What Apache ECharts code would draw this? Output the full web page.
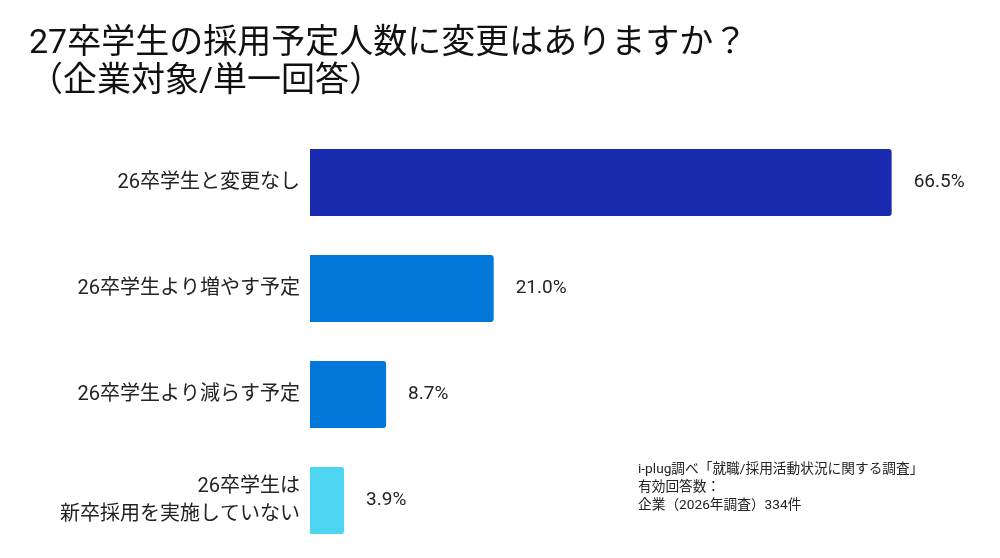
<!DOCTYPE html>
<html>
<head>
<meta charset="utf-8">
<script src="https://cdn.jsdelivr.net/npm/echarts@6/dist/echarts.min.js"></script>
<style>
  html, body { margin: 0; padding: 0; background: #fff; }
  #chart { width: 1000px; height: 558px; }
</style>
</head>
<body>
<div id="chart"></div>
<script>
  const FONT = "Roboto, 'Noto Sans CJK JP', sans-serif";
  const categories = ["26卒学生と変更なし", "26卒学生より増やす予定", "26卒学生より減らす予定", "26卒学生は\n新卒採用を実施していない"];
  const values = [66.5, 21.0, 8.7, 3.9];
  const barColors = ["#1a2aae", "#0077d9", "#0077d9", "#4dd4f0"];

  const chart = echarts.init(document.getElementById("chart"), null, { renderer: "canvas" });
  chart.setOption({
    animation: false,
    title: {
      text: "27卒学生の採用予定人数に変更はありますか？\n（企業対象/単一回答）",
      left: 24, top: 20,
      textStyle: { fontFamily: FONT, fontSize: 34, fontWeight: "normal", color: "#111", lineHeight: 38 }
    },
    graphic: [{
      type: "text", left: 638, top: 461,
      style: {
        text: "i-plug調べ「就職/採用活動状況に関する調査」\n有効回答数：\n企業（2026年調査）334件",
        font: "13.7px " + FONT, fill: "#222", lineHeight: 18
      }
    }],
    grid: { left: 310, right: 34, top: 129.5, bottom: 4.5, containLabel: false },
    xAxis: { type: "value", min: 0, max: 75, show: false },
    yAxis: {
      type: "category", data: categories, inverse: true,
      axisLine: { show: false }, axisTick: { show: false },
      axisLabel: { fontFamily: FONT, fontSize: 20, color: "#222", margin: 10, align: "right", lineHeight: 28 }
    },
    series: [{
      type: "bar", barWidth: 67,
      data: values.map((v, i) => ({ value: v, itemStyle: { color: barColors[i] } })),
      itemStyle: { borderRadius: [0, 3, 3, 0] },
      label: {
        show: true, position: "right", distance: 22,
        formatter: (p) => p.value.toFixed(1) + "%",
        fontFamily: FONT, fontSize: 19, color: "#222"
      }
    }]
  });
</script>
</body>
</html>
